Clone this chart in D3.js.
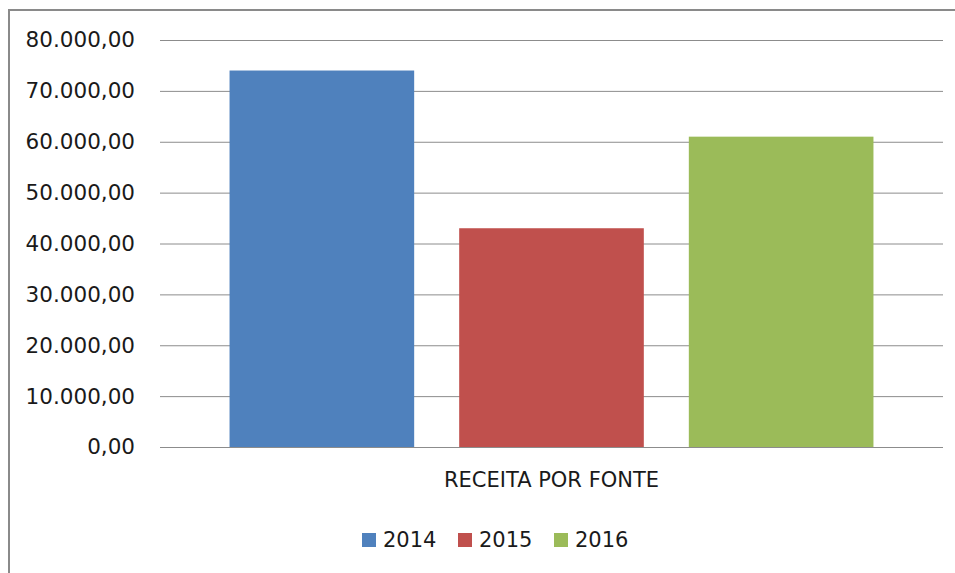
<!DOCTYPE html>
<html>
<head>
<meta charset="utf-8">
<script src="https://cdn.jsdelivr.net/npm/d3@7"></script>
<style>
  body { margin: 0; background: #fff; }
  text { font-family: "DejaVu Sans", sans-serif; fill: #1a1a1a; }
</style>
</head>
<body>
<svg id="chart" width="955" height="573"></svg>
<script>
// chart data
var categories = ["RECEITA POR FONTE"];
var years = ["2014", "2015", "2016"];
var values2014 = [74000];
var values2015 = [43000];
var values2016 = [61000];
var yTicks = [0, 10000, 20000, 30000, 40000, 50000, 60000, 70000, 80000];
var colors = ["#4f81bd", "#c0504d", "#9bbb59"];

var series = [values2014, values2015, values2016];

var svg = d3.select("#chart");

// outer frame of the chart (runs off the right and bottom edges)
svg.append("rect")
    .attr("x", 9)
    .attr("y", 10)
    .attr("width", 1000)
    .attr("height", 700)
    .style("fill", "none")
    .style("stroke", "#8a8a8a")
    .style("stroke-width", 2);

// plot area (window.top is reserved, so use own names)
var plotLeft = 160, plotRight = 943, plotTop = 40, plotBottom = 447;

var y = d3.scaleLinear()
    .domain([0, 80000])
    .range([plotBottom, plotTop]);

var x0 = d3.scaleBand()
    .domain(categories)
    .range([plotLeft, plotRight])
    .paddingInner(0)
    .paddingOuter(0.108);

var x1 = d3.scaleBand()
    .domain(years)
    .range([0, x0.bandwidth()])
    .paddingInner(0.196)
    .paddingOuter(0);

// gridlines
svg.append("g")
    .selectAll("line")
    .data(yTicks)
    .enter()
    .append("line")
    .attr("x1", plotLeft)
    .attr("x2", plotRight)
    .attr("y1", function(d) { return y(d) + 0.5; })
    .attr("y2", function(d) { return y(d) + 0.5; })
    .style("stroke", "#8c8c8c")
    .style("stroke-width", 1);

// y axis labels, pt-BR number format
var fmt = d3.formatLocale({ decimal: ",", thousands: ".", grouping: [3], currency: ["R$", ""] }).format(",.2f");

var yAxis = d3.axisLeft(y)
    .tickValues(yTicks)
    .tickFormat(fmt)
    .tickSize(0)
    .tickPadding(0);

var yg = svg.append("g")
    .attr("transform", "translate(135,0)")
    .call(yAxis);
yg.select(".domain").remove();
yg.selectAll("text")
    .style("font-size", "21.5px")
    .style("font-family", "DejaVu Sans, sans-serif")
    .attr("fill", "#1a1a1a");

// bars
var groups = svg.append("g")
    .selectAll("g")
    .data(categories)
    .enter()
    .append("g")
    .attr("transform", function(d) { return "translate(" + x0(d) + ",0)"; });

groups.selectAll("rect")
    .data(function(d, ci) {
      return years.map(function(yr, i) { return { year: yr, value: series[i][ci], color: colors[i] }; });
    })
    .enter()
    .append("rect")
    .attr("x", function(d) { return x1(d.year); })
    .attr("width", x1.bandwidth())
    .attr("y", function(d) { return y(d.value); })
    .attr("height", function(d) { return plotBottom - y(d.value); })
    .style("fill", function(d) { return d.color; });

// x axis (category label)
var xAxis = d3.axisBottom(x0).tickSize(0).tickPadding(0);
var xg = svg.append("g")
    .attr("transform", "translate(0,472)")
    .call(xAxis);
xg.select(".domain").remove();
xg.selectAll("text")
    .style("font-size", "21px")
    .style("font-family", "DejaVu Sans, sans-serif")
    .attr("fill", "#1a1a1a");

// legend
var legend = svg.append("g")
    .attr("transform", "translate(362,533)")
    .selectAll("g")
    .data(years)
    .enter()
    .append("g")
    .attr("transform", function(d, i) { return "translate(" + i * 96 + ",0)"; });

legend.append("rect")
    .attr("width", 14)
    .attr("height", 14)
    .style("fill", function(d, i) { return colors[i]; });

legend.append("text")
    .attr("x", 21)
    .attr("y", 7)
    .attr("dy", "0.35em")
    .style("font-size", "21px")
    .text(function(d) { return d; });
</script>
</body>
</html>
